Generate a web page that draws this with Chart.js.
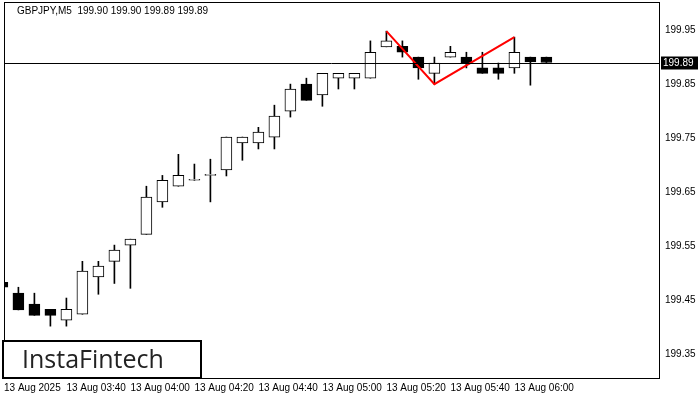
<!DOCTYPE html>
<html>
<head>
<meta charset="utf-8">
<script src="https://cdn.jsdelivr.net/npm/chart.js@4"></script>
<style>
  html, body { margin: 0; padding: 0; background: #fff; }
  #wrap { width: 700px; height: 400px; }
</style>
</head>
<body>
<div id="wrap"><canvas id="chart"></canvas></div>
<script>
// ======================
// DATA
// ======================
const times = ["03:20","03:25","03:30","03:35","03:40","03:45","03:50","03:55","04:00","04:05","04:10","04:15","04:20","04:25","04:30","04:35","04:40","04:45","04:50","04:55","05:00","05:05","05:10","05:15","05:20","05:25","05:30","05:35","05:40","05:45","05:50","05:55","06:00","06:05","06:10"];
const opens  = [199.483,199.463,199.443,199.433,199.413,199.424,199.493,199.522,199.552,199.572,199.632,199.661,199.672,199.681,199.691,199.741,199.741,199.752,199.800,199.850,199.830,199.861,199.861,199.861,199.919,199.920,199.900,199.870,199.900,199.900,199.880,199.880,199.880,199.900,199.900];
const highs  = [199.504,199.474,199.463,199.433,199.454,199.522,199.522,199.552,199.563,199.661,199.681,199.720,199.702,199.711,199.752,199.752,199.770,199.811,199.850,199.861,199.870,199.870,199.870,199.930,199.948,199.930,199.900,199.900,199.920,199.909,199.909,199.889,199.937,199.900,199.900];
const lows   = [199.456,199.432,199.422,199.402,199.402,199.424,199.461,199.481,199.472,199.572,199.622,199.661,199.672,199.632,199.680,199.709,199.730,199.730,199.789,199.820,199.809,199.841,199.841,199.861,199.919,199.900,199.859,199.850,199.900,199.880,199.870,199.859,199.870,199.848,199.890];
const closes = [199.474,199.432,199.422,199.422,199.433,199.504,199.513,199.543,199.563,199.641,199.672,199.681,199.672,199.681,199.752,199.752,199.761,199.791,199.841,199.820,199.870,199.870,199.870,199.909,199.930,199.909,199.880,199.889,199.909,199.889,199.870,199.870,199.909,199.891,199.890];
const patternIdx = [24, 27, 32];
const patternPrice = [199.948, 199.850, 199.937];
const yTicks = [199.35, 199.45, 199.55, 199.65, 199.75, 199.85, 199.95];
const xTickIdx = [0.1, 4, 8, 12, 16, 20, 24, 28, 32];
const currentPrice = 199.89;
const titleText = "GBPJPY,M5  199.90 199.90 199.89 199.89";

const FONT = "Liberation Sans";

// ======================
// PLUGIN: overlay texts, price line, logo
// ======================
const overlay = {
  id: "overlay",
  afterDatasetsDraw(chart) {
    const { ctx, chartArea: a, scales } = chart;
    const y = scales.y.getPixelForValue(currentPrice);
    ctx.save();
    ctx.strokeStyle = "#000";
    ctx.lineWidth = 1;
    ctx.beginPath();
    ctx.moveTo(a.left, Math.round(y) + 0.5);
    ctx.lineTo(a.right, Math.round(y) + 0.5);
    ctx.stroke();
    // frame
    ctx.strokeRect(a.left + 0.5, a.top + 0.5, a.right - a.left, a.bottom - a.top);
    // price label
    ctx.fillStyle = "#000";
    ctx.fillRect(a.right + 2, y - 6, 37, 13);
    ctx.fillStyle = "#fff";
    ctx.font = "10px " + FONT;
    ctx.textBaseline = "middle";
    ctx.fillText(currentPrice.toFixed(2), a.right + 4, y + 1);
    // title
    ctx.fillStyle = "#000";
    ctx.fillText(titleText, 17, 11);
    // logo
    ctx.fillStyle = "#fff";
    ctx.fillRect(3, 341, 198, 37);
    ctx.lineWidth = 2;
    ctx.strokeRect(3, 341, 198, 37);
    ctx.fillStyle = "#222";
    ctx.font = "500 25px 'Open Sans'";
    ctx.fillText("InstaFintech", 22, 361);
    ctx.restore();
  }
};

const ctx = document.getElementById("chart").getContext("2d");

new Chart(ctx, {
  type: "bar",
  data: {
    datasets: [
      {
        type: "line",
        data: patternIdx.map((x, i) => ({ x, y: patternPrice[i] })),
        borderColor: "#ff0000",
        borderWidth: 2,
        pointRadius: 0,
        tension: 0,
        order: 0
      },
      {
        data: times.map((t, i) => ({ x: i, y: [lows[i], highs[i]] })),
        backgroundColor: "#000",
        barThickness: 1,
        grouped: false,
        order: 2
      },
      {
        data: times.map((t, i) => ({ x: i, y: [opens[i], closes[i]] })),
        backgroundColor: times.map((t, i) => closes[i] >= opens[i] ? "#fff" : "#000"),
        borderColor: "#000",
        borderWidth: 1,
        borderSkipped: false,
        minBarLength: 1,
        barThickness: 11,
        grouped: false,
        order: 1
      }
    ]
  },
  options: {
    responsive: true,
    maintainAspectRatio: false,
    animation: false,
    layout: { padding: { left: 4, top: 2 } },
    plugins: { legend: { display: false }, tooltip: { enabled: false } },
    scales: {
      x: {
        type: "linear",
        offset: false,
        min: 0.1,
        max: 0.1 + 655 / 16,
        grid: { display: false, drawTicks: false, offset: false },
        border: { display: false },
        afterBuildTicks(s) { s.ticks = xTickIdx.map(v => ({ value: v })); },
        afterFit(s) { s.height = 22; },
        ticks: {
          autoSkip: false,
          maxRotation: 0,
          align: "start",
          padding: 4,
          color: "#000",
          font: { family: FONT, size: 10 },
          callback: v => v < 1 ? "13 Aug 2025" : "13 Aug " + times[v]
        }
      },
      y: {
        position: "right",
        min: 199.306,
        max: 200.002,
        grid: { display: false, drawTicks: true, tickLength: 4, tickColor: "#000" },
        border: { display: false },
        afterBuildTicks(s) { s.ticks = yTicks.map(v => ({ value: v })); },
        afterFit(s) { s.width = 41; s.paddingTop = 0; s.paddingBottom = 0; },
        ticks: {
          padding: 2,
          color: "#000",
          font: { family: FONT, size: 10 },
          callback: v => v.toFixed(2)
        }
      }
    }
  },
  plugins: [overlay]
});
</script>
</body>
</html>
